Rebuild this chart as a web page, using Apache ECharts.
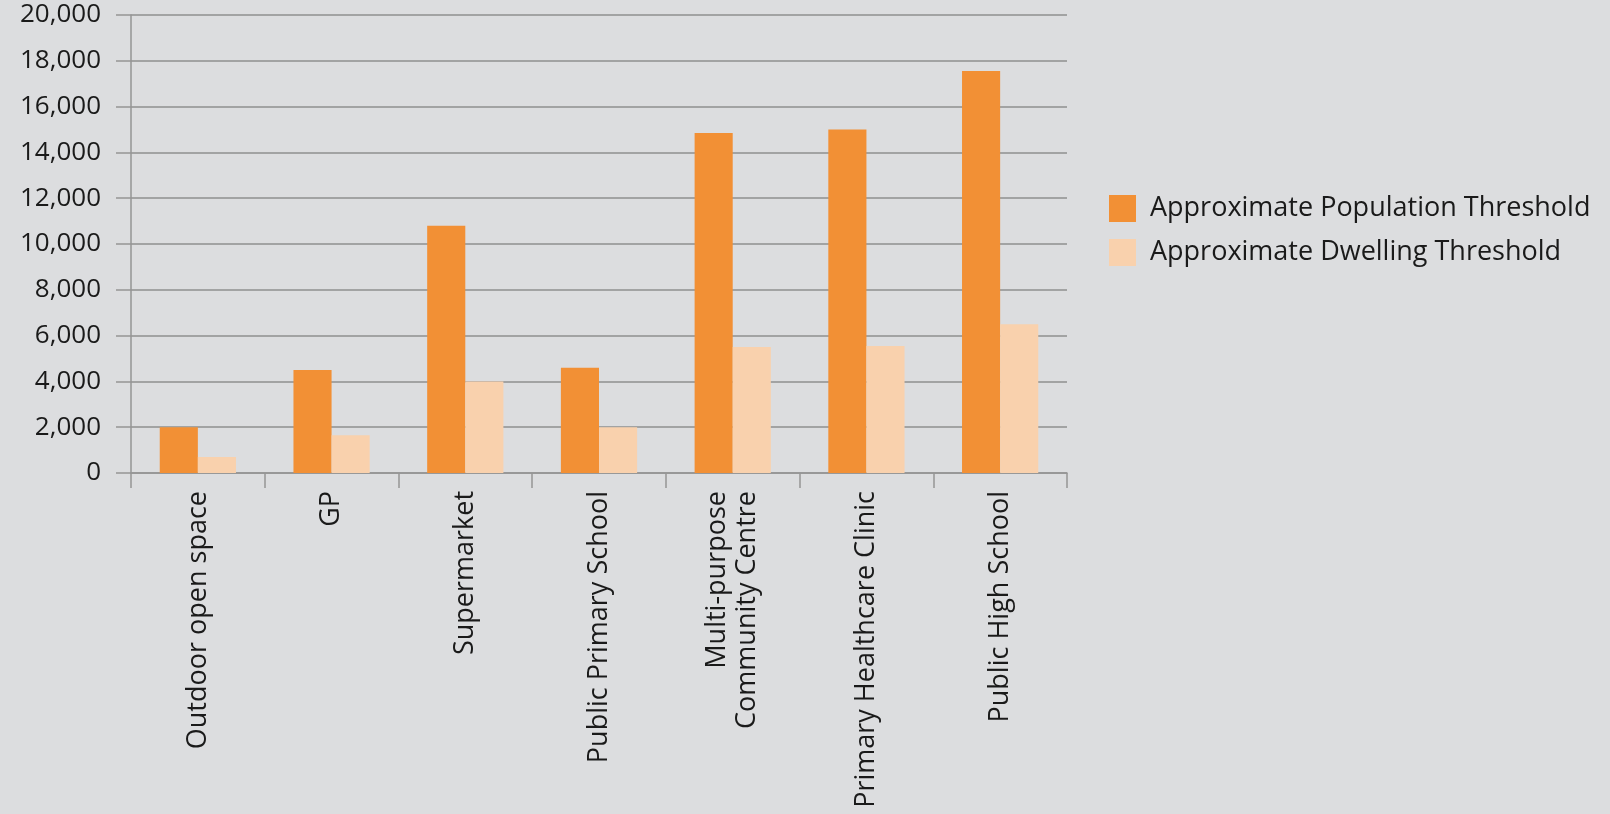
<!DOCTYPE html>
<html>
<head>
<meta charset="utf-8">
<title>Facility thresholds</title>
<script src="https://cdn.jsdelivr.net/npm/echarts@6/dist/echarts.min.js"></script>
<style>
  html, body { margin: 0; padding: 0; background: #dcdddf; }
  #chart { width: 1610px; height: 814px; }
</style>
</head>
<body>
<div id="chart"></div>
<script>
// Facility types along the x axis
const categories = [
  'Outdoor open space',
  'GP',
  'Supermarket',
  'Public Primary School',
  'Multi-purpose\nCommunity Centre',
  'Primary Healthcare Clinic',
  'Public High School'
];

// Approximate thresholds per facility
const populationThreshold = [2000, 4500, 10800, 4600, 14850, 15000, 17550];
const dwellingThreshold = [700, 1650, 4000, 2000, 5500, 5550, 6500];

const seriesNames = ['Approximate Population Threshold', 'Approximate Dwelling Threshold'];

const FONT = '"Open Sans", "Noto Sans", sans-serif';
const TEXT = '#1a1a1a';

const chart = echarts.init(document.getElementById('chart'), null, { renderer: 'canvas' });

chart.setOption({
  backgroundColor: '#dcdddf',
  animation: false,
  grid: { left: 131, right: 543, top: 15, bottom: 341, containLabel: false },
  legend: {
    orient: 'vertical',
    left: 1104,
    top: 190,
    itemWidth: 27,
    itemHeight: 27,
    itemGap: 17,
    icon: 'rect',
    data: seriesNames,
    textStyle: { fontFamily: FONT, fontSize: 27, lineHeight: 27, color: TEXT, padding: [0, 0, 0, 9] }
  },
  xAxis: {
    type: 'category',
    data: categories,
    boundaryGap: true,
    axisLine: { show: true, lineStyle: { color: '#959595', width: 1.5 } },
    axisTick: { show: true, length: 15, lineStyle: { color: '#959595', width: 1.5 } },
    axisLabel: {
      rotate: 90,
      interval: 0,
      margin: 18,
      fontFamily: FONT,
      fontSize: 27,
      lineHeight: 30,
      color: TEXT
    },
    splitLine: { show: false }
  },
  yAxis: {
    type: 'value',
    min: 0,
    max: 20000,
    interval: 2000,
    axisLine: { show: true, lineStyle: { color: '#959595', width: 1.5 } },
    axisTick: { show: true, length: 15, lineStyle: { color: '#959595', width: 1.5 } },
    axisLabel: {
      margin: 30,
      fontFamily: FONT,
      fontSize: 26,
      color: TEXT,
      formatter: v => v.toLocaleString('en-US')
    },
    splitLine: { show: true, lineStyle: { color: '#8f8f8f', width: 1.5 } }
  },
  series: [
    {
      name: seriesNames[0],
      type: 'bar',
      data: populationThreshold,
      barGap: '0%',
      barCategoryGap: '43%',
      itemStyle: { color: '#f29035' }
    },
    {
      name: seriesNames[1],
      type: 'bar',
      data: dwellingThreshold,
      barGap: '0%',
      barCategoryGap: '43%',
      itemStyle: { color: '#f9d1ad' }
    }
  ]
});
</script>
</body>
</html>
